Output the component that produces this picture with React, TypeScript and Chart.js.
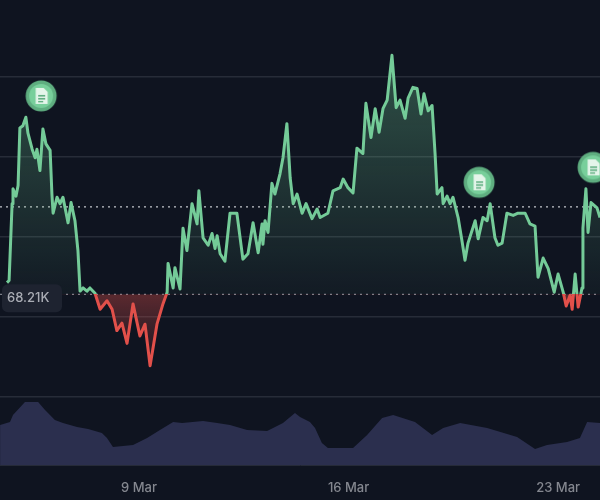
import { useEffect, useRef } from "react";
import { Chart, registerables, type Plugin } from "chart.js";

Chart.register(...registerables);

const priceDays = [
  4.59, 4.66, 4.76, 4.79, 4.89, 4.96, 5.02, 5.12, 5.22, 5.29, 5.43, 5.53, 5.59, 5.69, 5.79, 5.89, 6.03, 6.09, 6.13,
  6.26, 6.36, 6.46, 6.63, 6.73, 6.86, 6.96, 7.03, 7.13, 7.26, 7.36, 7.53, 7.7, 7.93, 8.1, 8.26, 8.43, 8.6, 8.8, 9.03,
  9.2, 9.37, 9.6, 9.8, 9.94, 9.97, 10.14, 10.2, 10.37, 10.47, 10.6, 10.77, 10.94, 11.0, 11.14, 11.31, 11.44, 11.54,
  11.61, 11.71, 11.87, 12.04, 12.27, 12.47, 12.64, 12.81, 12.98, 13.11, 13.14, 13.21, 13.31, 13.44, 13.54, 13.71,
  13.81, 13.94, 14.05, 14.15, 14.28, 14.45, 14.58, 14.78, 14.95, 15.05, 15.31, 15.48, 15.72, 15.82, 15.98, 16.15,
  16.28, 16.48, 16.58, 16.75, 16.89, 17.02, 17.15, 17.29, 17.45, 17.59, 17.72, 17.89, 17.99, 18.15, 18.29, 18.42,
  18.52, 18.66, 18.79, 18.89, 18.96, 19.12, 19.16, 19.29, 19.39, 19.49, 19.66, 19.79, 19.89, 19.99, 20.23, 20.33,
  20.49, 20.63, 20.73, 20.89, 20.99, 21.13, 21.29, 21.5, 21.66, 21.9, 22.06, 22.23, 22.33, 22.5, 22.67, 22.87, 23.0,
  23.17, 23.27, 23.4, 23.47, 23.57, 23.67, 23.8, 23.83, 23.93, 24.0, 24.1, 24.3, 24.4,
];
const priceValues = [
  68.32, 68.34, 69.06, 69.2, 69.13, 69.23, 69.77, 69.79, 69.87, 69.72, 69.57, 69.49, 69.57, 69.37, 69.76, 69.62,
  69.56, 69.15, 68.97, 69.12, 69.06, 69.12, 68.88, 69.07, 68.9, 68.62, 68.24, 68.27, 68.24, 68.27, 68.22, 68.07,
  68.15, 68.07, 67.87, 67.94, 67.75, 68.12, 67.82, 67.93, 67.54, 67.93, 68.12, 68.23, 68.5, 68.27, 68.46, 68.26,
  68.83, 68.62, 69.06, 68.87, 69.18, 68.74, 68.67, 68.78, 68.64, 68.76, 68.59, 68.52, 68.97, 68.97, 68.54, 68.59,
  68.88, 68.6, 68.87, 68.68, 68.9, 68.79, 69.25, 69.15, 69.34, 69.49, 69.81, 69.3, 69.06, 69.15, 68.97, 69.06,
  68.92, 69.01, 68.93, 68.97, 69.18, 69.21, 69.29, 69.21, 69.16, 69.58, 69.53, 70.0, 69.68, 69.95, 69.73, 69.95,
  70.03, 70.45, 69.96, 70.03, 69.86, 70.05, 70.15, 70.14, 69.9, 70.09, 69.93, 69.98, 69.53, 69.15, 69.21, 69.06,
  69.13, 69.06, 69.12, 68.93, 68.71, 68.53, 68.69, 68.9, 68.73, 68.93, 68.9, 69.06, 68.74, 68.67, 68.69, 68.97,
  68.95, 68.97, 68.97, 68.87, 68.85, 68.37, 68.55, 68.45, 68.23, 68.4, 68.23, 68.1, 68.2, 68.07, 68.4, 68.09, 68.27,
  68.83, 69.2, 68.79, 69.07, 69.02, 68.93,
];

const volumeDays = [
  4.36, 4.69, 4.79, 5.19, 5.63, 5.86, 6.19, 6.46, 6.93, 7.3, 7.76, 7.93, 8.13, 8.8, 9.27, 9.7, 10.14, 10.44, 11.14,
  11.61, 12.04, 12.61, 13.28, 13.81, 14.21, 14.38, 14.71, 14.88, 15.11, 15.31, 16.15, 16.62, 17.12, 17.49, 18.22,
  18.79, 19.16, 19.73, 20.63, 21.63, 22.23, 22.63, 23.3, 23.73, 23.97, 24.4,
];
const volumeValues = [
  40, 43, 50, 63, 63, 55, 45, 42, 38, 36, 32, 27, 18, 20, 27, 35, 43, 42, 44, 42, 40, 35, 34, 42, 52, 48, 43, 37, 22,
  17, 17, 30, 47, 50, 43, 30, 37, 42, 37, 28, 16, 20, 23, 27, 43, 42,
];

const markerDays = [5.73, 20.36, 24.17];
const markerValues = [70.07, 69.26, 69.4];

const dayTicks = [9, 16, 23];
const priceGrid = [67.25, 68, 68.75, 69.5, 70.25];
const BASE_PRICE = 68.21;
const BASE_LABEL = "68.21K";
const CURRENT_PRICE = 69.03;

const GREEN = "#74cb98";
const RED = "#e2504a";

const toPoints = (xs: number[], ys: number[]) => xs.map((x, i) => ({ x, y: ys[i] }));

const splitLineColor = (c: any) => {
  const { chart } = c;
  const scale = chart.scales.y;
  const px = scale ? scale.getPixelForValue(BASE_PRICE) : NaN;
  if (!Number.isFinite(px)) return GREEN;
  const at = px / chart.height;
  const g = chart.ctx.createLinearGradient(0, 0, 0, chart.height);
  g.addColorStop(0, GREEN);
  g.addColorStop(at, GREEN);
  g.addColorStop(at, RED);
  g.addColorStop(1, RED);
  return g;
};

const splitFill = (c: any) => {
  const { chart } = c;
  const scale = chart.scales.y;
  const base = scale ? scale.getPixelForValue(BASE_PRICE) : NaN;
  if (!Number.isFinite(base)) return { target: { value: BASE_PRICE }, above: "transparent", below: "transparent" };
  const above = chart.ctx.createLinearGradient(0, scale.getPixelForValue(70.45), 0, base);
  above.addColorStop(0, "rgba(111,200,147,0.34)");
  above.addColorStop(1, "rgba(111,200,147,0.04)");
  const below = chart.ctx.createLinearGradient(0, base, 0, scale.getPixelForValue(67.54));
  below.addColorStop(0, "rgba(226,80,74,0.36)");
  below.addColorStop(1, "rgba(226,80,74,0.04)");
  return { target: { value: BASE_PRICE }, above, below };
};

// badge with the little document glyph, used as the point style of the markers
const makeMarker = () => {
  const size = 34;
  const cv = document.createElement("canvas");
  cv.width = size;
  cv.height = size;
  const ctx = cv.getContext("2d")!;
  ctx.fillStyle = "#5fae80";
  ctx.beginPath();
  ctx.arc(17, 17, 15.5, 0, Math.PI * 2);
  ctx.fill();
  ctx.fillStyle = "#78cf9b";
  ctx.beginPath();
  ctx.arc(17, 17, 12, 0, Math.PI * 2);
  ctx.fill();
  ctx.fillStyle = "#e4f5ea";
  ctx.beginPath();
  ctx.moveTo(11.5, 9);
  ctx.lineTo(19.5, 9);
  ctx.lineTo(23.5, 13);
  ctx.lineTo(23.5, 25);
  ctx.lineTo(11.5, 25);
  ctx.closePath();
  ctx.fill();
  ctx.fillStyle = "#5fae80";
  ctx.fillRect(14, 16, 7, 1.6);
  ctx.fillRect(14, 19, 7, 1.6);
  ctx.fillRect(14, 22, 5, 1.4);
  return cv;
};

const baseLabelPlugin: Plugin<"line"> = {
  id: "baseLabel",
  afterDatasetsDraw(chart) {
    const { ctx } = chart;
    const y = chart.scales.y.getPixelForValue(BASE_PRICE) + 4;
    ctx.save();
    ctx.fillStyle = "#1e2330";
    ctx.beginPath();
    ctx.roundRect(2, y - 14, 60, 28, 6);
    ctx.fill();
    ctx.fillStyle = "#a9acb4";
    ctx.font = "500 13px Inter";
    ctx.textAlign = "left";
    ctx.textBaseline = "middle";
    ctx.fillText(BASE_LABEL, 7, y);
    ctx.restore();
  },
};

export default function App() {
  const canvasRef = useRef<HTMLCanvasElement>(null);

  useEffect(() => {
    if (!canvasRef.current) return;
    document.body.style.margin = "0";
    document.body.style.background = "#0f1420";

    const guide = (value: number, color: string) => ({
      data: [
        { x: 4.356, y: value },
        { x: 24.4, y: value },
      ],
      borderColor: color,
      borderWidth: 1.2,
      borderDash: [2, 4],
      pointRadius: 0,
      fill: false,
      order: 3,
    });

    const chart = new Chart(canvasRef.current, {
      type: "line",
      data: {
        datasets: [
          {
            data: toPoints(markerDays, markerValues),
            showLine: false,
            pointStyle: makeMarker(),
            pointRadius: 15,
            order: 0,
            clip: false,
          },
          {
            data: toPoints(priceDays, priceValues),
            borderColor: splitLineColor,
            borderWidth: 3,
            borderJoinStyle: "round",
            pointRadius: 0,
            fill: splitFill,
            order: 1,
          },
          guide(CURRENT_PRICE, "#c4c6cb"),
          guide(BASE_PRICE, "#7d808a"),
          {
            data: toPoints(volumeDays, volumeValues),
            yAxisID: "y1",
            borderWidth: 0,
            pointRadius: 0,
            backgroundColor: "#2b2f4e",
            fill: "origin",
            order: 4,
          },
        ] as any,
      },
      options: {
        responsive: false,
        animation: false,
        layout: { padding: 0, autoPadding: false },
        plugins: { legend: { display: false }, tooltip: { enabled: false } },
        scales: {
          x: {
            type: "linear",
            min: 4.356,
            max: 24.4,
            afterBuildTicks: (s) => {
              s.ticks = dayTicks.map((value) => ({ value }));
            },
            afterFit: (s) => {
              s.height = 35;
            },
            grid: { display: false },
            border: { color: "#262b38" },
            ticks: {
              color: "#84878f",
              font: { family: "Inter", size: 13, weight: 500 },
              padding: 7,
              maxRotation: 0,
              callback: (v) => `${v} Mar`,
            },
          },
          y: {
            min: 66.61,
            max: 70.969,
            afterBuildTicks: (s) => {
              s.ticks = priceGrid.map((value) => ({ value }));
            },
            afterFit: (s) => {
              s.width = 0;
            },
            grid: { color: "#272c38", lineWidth: 1.5, drawTicks: false },
            border: { display: false },
            ticks: { display: false },
          },
          y1: {
            min: 0,
            max: 465,
            display: false,
          },
        },
      },
      plugins: [baseLabelPlugin],
    });

    return () => {
      chart.destroy();
    };
  }, []);

  return (
    <div style={{ width: 600, height: 500, background: "#0f1420" }}>
      <canvas ref={canvasRef} width={600} height={500} style={{ display: "block", filter: "blur(0.6px)" }}></canvas>
    </div>
  );
}
